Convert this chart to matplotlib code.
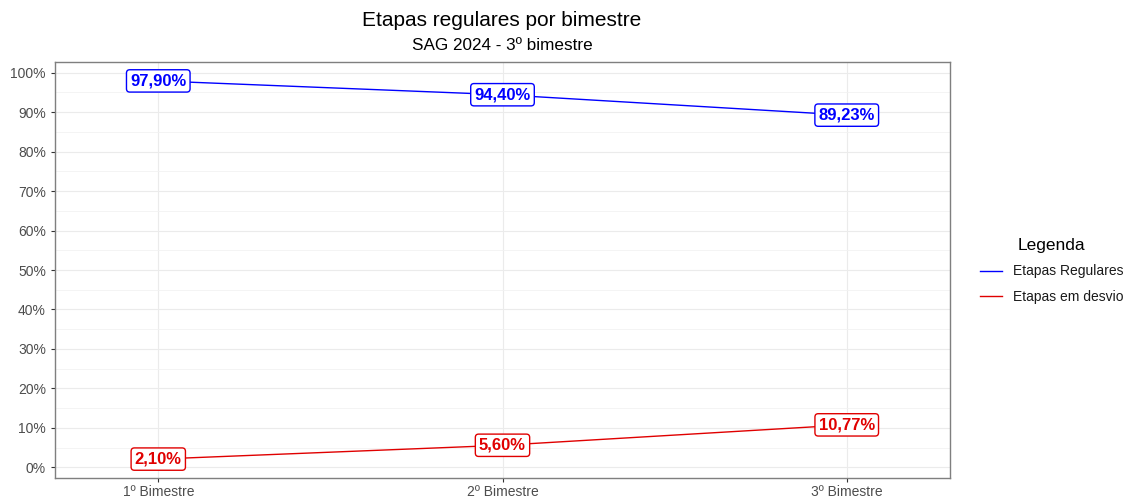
import matplotlib
matplotlib.use("Agg")
import matplotlib.pyplot as plt
from matplotlib.ticker import MultipleLocator, FuncFormatter

plt.rcParams['font.family'] = ['Liberation Sans', 'DejaVu Sans']

categories = ["1º Bimestre", "2º Bimestre", "3º Bimestre"]
regulares = [97.90, 94.40, 89.23]
desvio = [2.10, 5.60, 10.77]
series_names = ["Etapas Regulares", "Etapas em desvio"]
colors = ["#0000FF", "#E00000"]

fig = plt.figure(figsize=(11.26, 4.98), dpi=100)
ax = fig.add_axes([55/1126, 1 - 478/498, (950-55)/1126, (478-62)/498])

x = list(range(len(categories)))
for vals, name, c in zip([regulares, desvio], series_names, colors):
    ax.plot(x, vals, color=c, lw=1.0, label=name, zorder=2)
    for xi, v in zip(x, vals):
        ax.text(xi, v, f"{v:.2f}%".replace(".", ","), color=c, fontsize=12,
                fontweight="bold", ha="center", va="center", zorder=3,
                bbox=dict(boxstyle="round,pad=0.22,rounding_size=0.2",
                          fc="white", ec=c, lw=1.0))

ax.set_xlim(-0.3, 2.3)
ax.set_ylim(-2.69, 102.69)
ax.set_xticks(x)
ax.set_xticklabels(categories)
ax.yaxis.set_major_locator(MultipleLocator(10))
ax.yaxis.set_minor_locator(MultipleLocator(5))
ax.yaxis.set_major_formatter(FuncFormatter(lambda v, p: f"{v:.0f}%"))
ax.grid(True, which="major", color="#EBEBEB", lw=0.8, zorder=0)
ax.grid(True, which="minor", axis="y", color="#F2F2F2", lw=0.6, zorder=0)
ax.set_axisbelow(True)
ax.tick_params(axis="both", which="major", colors="#333333", labelcolor="#4D4D4D",
               labelsize=10, length=3, width=0.8)
ax.tick_params(axis="x", which="major", pad=2)
ax.tick_params(axis="y", which="minor", length=0)
for s in ax.spines.values():
    s.set_color("#7F7F7F")
    s.set_linewidth(1.0)

fig.text(502/1126, 1 - 20/498, "Etapas regulares por bimestre", ha="center",
         va="center", fontsize=15, color="black")
fig.text(502/1126, 1 - 46/498, "SAG 2024 - 3º bimestre", ha="center",
         va="center", fontsize=12.3, color="black")

leg = fig.legend(loc="center left", bbox_to_anchor=(967/1126, 1 - 271/498),
                 title="Legenda", frameon=False, fontsize=10, title_fontsize=12.5,
                 handlelength=1.6, handletextpad=0.8, labelspacing=0.85,
                 alignment="center")
for t in leg.get_texts():
    t.set_color("#1A1A1A")

fig.savefig("out.png", dpi=100)
